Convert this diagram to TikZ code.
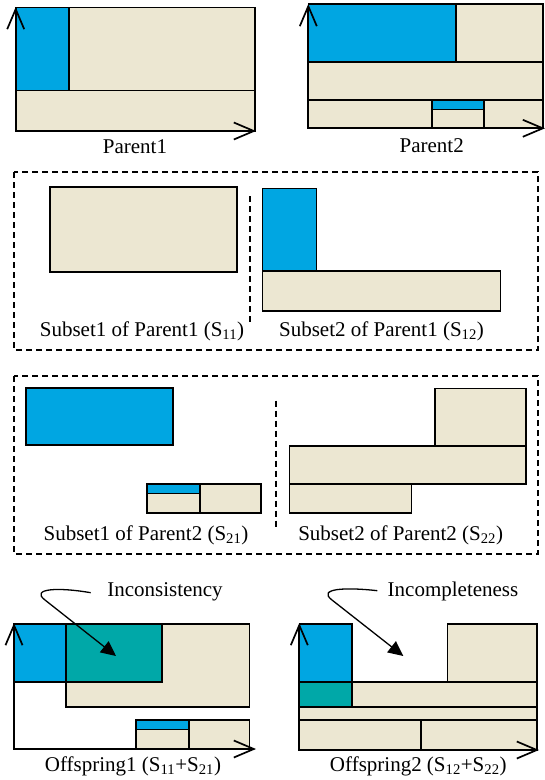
\documentclass[tikz,border=0pt]{standalone}
\usepackage{fontspec}
\setmainfont{Liberation Serif}
\usetikzlibrary{arrows.meta}
\definecolor{cblue}{RGB}{0,166,226}
\definecolor{cbeige}{RGB}{236,231,210}
\definecolor{cteal}{RGB}{0,168,168}
\begin{document}
\begin{tikzpicture}[x=1pt,y=-1pt,
  rectline/.style={draw=black,line width=1.6pt},
  bluebox/.style={rectline,fill=cblue},
  beigebox/.style={rectline,fill=cbeige},
  tealbox/.style={rectline,fill=cteal},
  axisline/.style={line width=2pt,line join=miter,
    {Straight Barb[length=20pt,width=17pt,line width=1.7pt]}-{Straight Barb[length=20pt,width=17pt,line width=1.7pt]}},
  dashbox/.style={line width=1.6pt,dash pattern=on 6pt off 4pt},
  lbl/.style={font=\fontsize{21pt}{25pt}\selectfont,inner sep=0pt,anchor=base},
  curvy/.style={line width=1.3pt,-{Triangle[length=15pt,width=14pt]}}]
\useasboundingbox (0,0) rectangle (545,780);

% ---------- Parent1 ----------
\filldraw[bluebox] (15.7,7.3) rectangle (69,90.3);
\filldraw[beigebox] (69,7.3) rectangle (255,90.3);
\filldraw[beigebox] (15.7,90.3) rectangle (255,131);
\coordinate (p1o) at (15.7,131);
\coordinate (p1y) at (15.7,7);
\coordinate (p1x) at (256,131);
\draw[axisline] (p1y) -- (p1o) -- (p1x);
\node[lbl] (p1lbl) at (135,153) {Parent1};

% ---------- Parent2 ----------
\filldraw[bluebox] (308.3,4) rectangle (456,62);
\filldraw[beigebox] (456,4) rectangle (543,62);
\filldraw[beigebox] (308.3,62) rectangle (543,100);
\filldraw[beigebox] (308.3,100) rectangle (431.7,128.3);
\filldraw[beigebox] (431.7,100) rectangle (484,128.3);
\filldraw[bluebox] (431.7,100) rectangle (484,109.3);
\filldraw[beigebox] (484,100) rectangle (543,128.3);
\coordinate (p2o) at (308.3,128.3);
\coordinate (p2y) at (308.3,4);
\coordinate (p2x) at (545,128.3);
\draw[axisline] (p2y) -- (p2o) -- (p2x);
\node[lbl] (p2lbl) at (431.7,152) {Parent2};

% ---------- Subsets of Parent1 ----------
\draw[dashbox] (14,172) rectangle (538,350);
\draw[dashbox] (250,196) -- (250,323);
\filldraw[beigebox] (50,187) rectangle (237,272);
\filldraw[bluebox] (262.5,188.3) rectangle (316.5,270.7);
\filldraw[beigebox] (262.5,270.7) rectangle (500.5,310.7);
\node[lbl] (s11lbl) at (142,336) {Subset1 of Parent1 (S\textsubscript{11})};
\node[lbl] (s12lbl) at (381.5,336) {Subset2 of Parent1 (S\textsubscript{12})};

% ---------- Subsets of Parent2 ----------
\draw[dashbox] (14,376) rectangle (538,554);
\draw[dashbox] (275.7,400.7) -- (275.7,527.3);
\filldraw[bluebox] (26,388) rectangle (172.7,445);
\filldraw[beigebox] (146.7,483.7) rectangle (200,512.7);
\filldraw[bluebox] (146.7,483.7) rectangle (200,493.3);
\filldraw[beigebox] (200,483.7) rectangle (260.7,512.7);
\filldraw[beigebox] (435,388.3) rectangle (526,445.7);
\filldraw[beigebox] (289.3,445.7) rectangle (526,484);
\filldraw[beigebox] (289.3,484) rectangle (411.5,512.7);
\node[lbl] (s21lbl) at (146,540) {Subset1 of Parent2 (S\textsubscript{21})};
\node[lbl] (s22lbl) at (400.7,540) {Subset2 of Parent2 (S\textsubscript{22})};

% ---------- Offspring1 ----------
\filldraw[beigebox] (65.7,624) rectangle (249.3,706.7);
\filldraw[bluebox] (14,624) rectangle (65.7,681.7);
\filldraw[tealbox] (65.7,624) rectangle (161.7,681.7);
\filldraw[beigebox] (136,720) rectangle (189,749);
\filldraw[bluebox] (136,720) rectangle (189,729.3);
\filldraw[beigebox] (189,720) rectangle (249.3,749);
\coordinate (o1o) at (14,749);
\coordinate (o1y) at (14,623);
\coordinate (o1x) at (256,749);
\draw[axisline] (o1y) -- (o1o) -- (o1x);
\node[lbl] (o1lbl) at (133,771) {Offspring1 (S\textsubscript{11}+S\textsubscript{21})};
\node[lbl] (inc) at (165,596) {Inconsistency};
\coordinate (incs) at (90.7,592.7);
\coordinate (incb) at (45,600);
\coordinate (inct) at (116,656);
\draw[curvy] (incs) .. controls (58,587) and (30,588.5) .. (incb) -- (inct);

% ---------- Offspring2 ----------
\filldraw[bluebox] (299.3,624) rectangle (351.7,681.7);
\filldraw[beigebox] (447.3,624) rectangle (536.7,681.7);
\filldraw[tealbox] (299.3,681.7) rectangle (351.7,706.7);
\filldraw[beigebox] (351.7,681.7) rectangle (536.7,706.7);
\filldraw[beigebox] (299.3,706.7) rectangle (536.7,720);
\filldraw[beigebox] (299.3,720) rectangle (420.7,750);
\filldraw[beigebox] (420.7,720) rectangle (536.7,750);
\coordinate (o2o) at (299.3,750);
\coordinate (o2y) at (299.3,623);
\coordinate (o2x) at (539,750);
\draw[axisline] (o2y) -- (o2o) -- (o2x);
\node[lbl] (o2lbl) at (418.3,771) {Offspring2 (S\textsubscript{12}+S\textsubscript{22})};
\node[lbl] (incp) at (453,596.5) {Incompleteness};
\coordinate (incps) at (377.3,590.7);
\coordinate (incpb) at (332,600);
\coordinate (incpt) at (403.3,656);
\draw[curvy] (incps) .. controls (345,587) and (317,588.5) .. (incpb) -- (incpt);
\end{tikzpicture}
\end{document}
